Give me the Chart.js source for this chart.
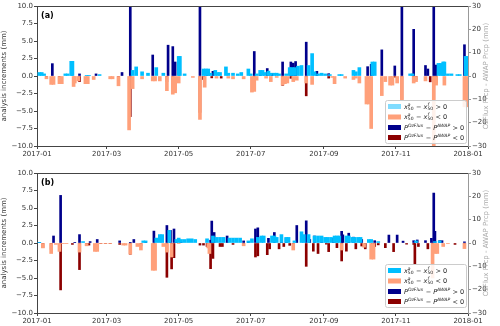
<!DOCTYPE html>
<html lang="en">
<head>
<meta charset="UTF-8">
<title>Analysis increments and OzFlux - AWAP precipitation</title>
<script src="https://cdn.jsdelivr.net/npm/chart.js"></script>
<style>
  html, body { margin: 0; padding: 0; background: #fff; }
  .panel { position: absolute; left: 0; width: 500px; height: 163px; }
  #panelA { top: 0; }
  #panelB { top: 163px; }
</style>
</head>
<body>
<div class="panel" id="panelA"><canvas id="chartA"></canvas></div>
<div class="panel" id="panelB"><canvas id="chartB"></canvas></div>

<script>
// x axis: day of year, 0 = 2017-01-01
const tickDays = [0, 59, 120, 181, 243, 304, 365];
const tickLabels = ['2017-01', '2017-03', '2017-05', '2017-07', '2017-09', '2017-11', '2018-01'];

// panel (a): [day, value]; increments in mm (left axis), precip difference in mm (right axis)
const incPosA = [[2,0.5],[4,0.5],[6,0.3],[24,0.3],[26,0.3],[29,2.1],[30,2.1],[42,0.1],[44,0.1],[53,0.2],
  [81,0.8],[84,1.3],[89,0.6],[94,0.4],[101,1.2],[107,0.4],[120,2.8],[121,2.8],[125,0.3],[141,1.0],[143,1.0],
  [145,1.0],[147,0.4],[151,0.8],[153,0.5],[155,0.5],[160,1.3],[162,0.4],[166,0.4],[170,0.3],[173,0.5],[179,1.0],
  [181,0.3],[186,0.3],[189,0.8],[191,0.8],[193,0.5],[196,0.7],[198,0.4],[201,0.4],[203,0.4],[205,0.3],[211,0.3],
  [214,1.2],[216,1.2],[218,1.2],[221,1.4],[224,1.5],[230,1.5],[233,3.2],[235,0.6],[238,0.3],[241,0.4],[244,0.3],
  [248,0.2],[256,0.2],[258,0.2],[268,0.8],[270,0.6],[273,1.2],[284,2.0],[286,2.0],[316,0.3],[318,0.3],[340,1.8],
  [342,1.8],[344,2.0],[345,2.0],[348,0.3],[351,0.3],[356,0.2],[358,0.2],[363,2.8],[364,2.8]];
const incNegA = [[8,-0.4],[12,-1.2],[14,-1.2],[19,-1.1],[21,-1.1],[31,-1.5],[32,-1.0],[35,-0.7],[41,-1.1],[43,-1.1],
  [48,-0.5],[62,-0.4],[64,-0.4],[69,-1.4],[78,-7.7],[81,-1.8],[89,-0.4],[98,-0.7],[100,-0.7],[104,-0.7],[110,-2.1],
  [115,-2.6],[117,-2.4],[120,-1.0],[132,-0.2],[138,-6.2],[142,-1.6],[152,-0.3],[162,-0.3],[166,-0.4],[175,-0.4],
  [182,-2.3],[184,-2.2],[186,-0.6],[194,-0.3],[198,-0.8],[203,-0.2],[208,-1.3],[210,-1.1],[212,-1.0],[217,-0.8],
  [220,-0.6],[228,-1.0],[233,-1.2],[250,-0.2],[252,-1.1],[261,-0.3],[268,-0.5],[270,-0.3],[273,-1.0],[279,-4.0],
  [281,-4.0],[283,-7.5],[292,-2.8],[295,-0.8],[299,-1.3],[301,-1.3],[305,-1.0],[309,-3.5],[319,-1.0],[321,-0.8],
  [329,-0.7],[336,-10.5],[338,-1.3],[345,-1.3],[362,-4.4],[364,-4.4]];
const prcpPosA = [[13,5.3],[36,0.9],[50,0.9],[72,1.5],[79,29.5],[98,9.0],[111,13.2],[115,12.6],[117,6.0],[138,33],
  [144,1.5],[149,2.0],[184,10.5],[189,1.0],[195,3.2],[199,1.0],[208,6.0],[215,6.0],[217,5.5],[219,6.2],[228,14.5],
  [237,2.0],[247,1.0],[280,4.0],[283,5.0],[292,11.2],[303,4.3],[309,33],[319,20],[329,4.5],[331,3.0],[336,33],
  [338,4.7],[362,13.4]];
const prcpNegA = [[8,-0.9],[19,-0.6],[36,-2.4],[69,-0.9],[79,-17.4],[110,-2.4],[115,-6.9],[138,-15.6],[141,-1.5],
  [148,-0.8],[156,-0.9],[184,-5.0],[208,-4.0],[215,-1.0],[228,-8.5],[247,-0.9],[303,-0.5],[309,-10],[319,-2.0],
  [321,-1.5],[333,-2.5],[336,-10],[338,-3.0]];

// panel (b)
const incPosB = [[2,0.1],[39,0.2],[90,0.3],[92,0.3],[101,0.7],[104,1.2],[106,1.2],[112,1.8],[118,0.5],[120,0.7],
  [122,0.5],[125,0.5],[128,0.6],[131,0.6],[134,0.5],[144,0.6],[149,1.0],[152,0.8],[155,0.8],[158,0.8],[163,0.7],
  [166,0.7],[169,0.7],[172,0.7],[179,0.3],[182,0.6],[187,0.8],[190,1.0],[192,1.0],[199,1.0],[201,1.0],[203,0.8],
  [207,1.2],[211,0.8],[213,0.8],[218,0.3],[224,1.6],[226,1.2],[230,1.2],[235,1.0],[238,1.0],[241,1.0],[244,0.8],
  [246,0.8],[249,0.8],[252,1.0],[254,1.0],[256,1.0],[262,1.0],[264,1.0],[267,0.8],[269,0.8],[272,0.8],[274,0.8],
  [281,0.5],[283,0.5],[289,0.2],[321,0.3],[337,0.2],[341,0.3]];
const incNegB = [[5,-0.7],[12,-1.5],[16,-0.2],[19,-1.2],[22,-0.1],[25,-0.1],[36,-1.3],[42,-0.4],[49,-1.2],[51,-1.2],
  [54,-0.1],[58,-0.1],[62,-0.1],[73,-0.3],[75,-0.3],[79,-1.6],[85,-0.5],[88,-1.0],[98,-3.9],[100,-3.9],[107,-0.5],
  [110,-1.3],[114,-2.0],[120,-0.1],[145,-0.7],[146,-1.5],[175,-0.4],[217,-1.0],[258,-1.0],[277,-0.6],[283,-2.3],
  [285,-2.3],[335,-5.0],[337,-1.5],[339,-1.5],[344,-0.5],[348,-0.1],[362,-0.8]];
const prcpPosB = [[2,0.3],[14,3.0],[20,20.4],[32,0.3],[36,3.6],[45,0.6],[51,1.5],[70,0.9],[79,0.3],[82,1.5],[92,0.6],
  [99,5.1],[110,7.5],[113,5.4],[116,6.0],[118,0.9],[122,0.5],[147,1.2],[148,9.4],[150,4.5],[161,3.0],[175,0.9],
  [179,0.5],[185,6.0],[187,6.5],[196,2.0],[201,4.5],[207,2.0],[211,2.0],[220,7.5],[228,9.5],[231,1.5],[235,3.0],
  [241,2.5],[251,2.0],[258,5.0],[259,3.5],[264,4.2],[268,2.5],[275,1.5],[286,1.0],[298,3.4],[305,3.4],[310,0.8],
  [319,1.0],[322,1.3],[329,1.0],[334,2.0],[336,21.4],[337,5.0],[341,1.0],[343,1.0],[362,0.5]];
const prcpNegB = [[5,-1.9],[12,-2.7],[20,-20.1],[30,-0.6],[36,-11.4],[42,-0.9],[44,-0.9],[54,-0.3],[58,-0.3],
  [62,-0.3],[70,-0.6],[79,-4.8],[88,-1.2],[99,-4.8],[110,-14.7],[114,-11.1],[116,-6.3],[138,-0.9],[141,-0.9],
  [144,-1.5],[147,-11.0],[149,-6.6],[155,-1.5],[157,-1.5],[166,-0.6],[175,-1.0],[185,-6.0],[187,-5.5],[195,-5.0],
  [197,-2.5],[205,-2.5],[209,-1.5],[214,-1.0],[217,-0.8],[228,-10.0],[234,-3.5],[238,-4.5],[245,-0.5],[247,-3.7],
  [254,-2.0],[258,-7.7],[262,-3.5],[270,-2.5],[275,-1.3],[278,-2.5],[284,-0.6],[286,-1.5],[289,-0.8],[295,-2.0],
  [302,-3.7],[313,-0.5],[319,-0.6],[320,-9.0],[323,-1.5],[331,-2.5],[335,-14.5],[354,-0.6],[362,-1.5]];

const LIGHT_BLUE = '#00bfff';
const SALMON = '#ffa07a';
const NAVY = '#00008b';
const DARK_RED = '#8b0000';

Chart.defaults.font.family = 'DejaVu Sans';
Chart.defaults.color = '#333';

const toXY = arr => arr.map(([d, v]) => ({ x: d, y: v }));
const minus = s => String(s).replace('-', '\u2212');

// draws x^a_50 style text piece by piece
function drawMath(ctx, x, y, parts) {
    parts.forEach(p => {
        if (p.sup !== undefined || p.sub !== undefined) {
            let w = 0;
            ctx.font = 'italic 4.5px DejaVu Sans';
            if (p.sup) { ctx.fillText(p.sup, x, y - 2.6); w = ctx.measureText(p.sup).width; }
            ctx.font = '4.5px DejaVu Sans';
            if (p.sub) { ctx.fillText(p.sub, x, y + 1.8); w = Math.max(w, ctx.measureText(p.sub).width); }
            x += w + 0.4;
        } else {
            ctx.font = (p.it ? 'italic ' : '') + '6.5px DejaVu Sans';
            ctx.fillText(p.t, x, y);
            x += ctx.measureText(p.t).width;
        }
    });
}

const legendRows = [
    [{ t: 'x', it: true }, { sup: 'a', sub: '50' }, { t: ' \u2212 ' }, { t: 'x', it: true }, { sup: 'f', sub: '50' }, { t: ' > 0' }],
    [{ t: 'x', it: true }, { sup: 'a', sub: '50' }, { t: ' \u2212 ' }, { t: 'x', it: true }, { sup: 'f', sub: '50' }, { t: ' < 0' }],
    [{ t: 'P', it: true }, { sup: 'OzFlux' }, { t: ' \u2212 ' }, { t: 'P', it: true }, { sup: 'AWAP' }, { t: ' > 0' }],
    [{ t: 'P', it: true }, { sup: 'OzFlux' }, { t: ' \u2212 ' }, { t: 'P', it: true }, { sup: 'AWAP' }, { t: ' < 0' }]
];

const panelDecor = {
    id: 'panelDecor',
    afterDraw(chart, args, opts) {
        const { ctx, chartArea: a } = chart;
        ctx.save();
        // top spine
        ctx.strokeStyle = '#444';
        ctx.lineWidth = 1;
        ctx.beginPath();
        ctx.moveTo(a.left, a.top + 0.5);
        ctx.lineTo(a.right, a.top + 0.5);
        ctx.stroke();

        // panel tag
        ctx.fillStyle = '#000';
        ctx.font = 'bold 8px DejaVu Sans';
        ctx.textBaseline = 'alphabetic';
        ctx.fillText(opts.tag, a.left + 4, a.top + 11.5);

        // right axis title, reads bottom to top
        ctx.save();
        ctx.translate(486, (a.top + a.bottom) / 2);
        ctx.rotate(-Math.PI / 2);
        ctx.textAlign = 'center';
        ctx.textBaseline = 'middle';
        ctx.font = '7px DejaVu Sans';
        ctx.fillStyle = '#aaa';
        ctx.fillText('OzFlux Prcp - AWAP Prcp (mm)', 0, 0);
        ctx.restore();

        // legend box
        const bw = 81, bh = 43;
        const bx = a.right - 2 - bw, by = a.bottom - opts.legendGap - bh;
        ctx.fillStyle = 'rgba(255,255,255,0.85)';
        ctx.strokeStyle = '#ccc';
        ctx.beginPath();
        ctx.roundRect(bx + 0.5, by + 0.5, bw, bh, 2);
        ctx.fill();
        ctx.stroke();
        const colors = [opts.patchBlue, SALMON, NAVY, DARK_RED];
        const rowY = [6.5, 17, 27.5, 37.5];
        ctx.textBaseline = 'middle';
        legendRows.forEach((row, i) => {
            const cy = by + rowY[i];
            ctx.fillStyle = colors[i];
            ctx.fillRect(bx + 3, cy - 2.5, 13, 5);
            ctx.fillStyle = '#222';
            drawMath(ctx, bx + 19, cy + 0.5, row);
        });
        ctx.restore();
    }
};

function makePanel(canvasId, tag, sets, topPad, xAxisHeight, legendGap, patchBlue) {
    const bar = (data, color, axis, thick) => ({
        data: toXY(data),
        backgroundColor: color,
        borderWidth: 0,
        yAxisID: axis,
        grouped: false,
        barThickness: thick
    });
    return new Chart(document.getElementById(canvasId), {
        type: 'bar',
        data: {
            datasets: [
                bar(sets[0], LIGHT_BLUE, 'y', 3),
                bar(sets[1], SALMON, 'y', 3),
                bar(sets[2], NAVY, 'y1', 2),
                bar(sets[3], DARK_RED, 'y1', 2)
            ]
        },
        options: {
            responsive: true,
            maintainAspectRatio: false,
            animation: false,
            layout: { padding: { top: topPad, left: 0, right: 0, bottom: 0 } },
            plugins: {
                legend: { display: false },
                tooltip: { enabled: false },
                panelDecor: { tag: tag, legendGap: legendGap, patchBlue: patchBlue }
            },
            scales: {
                x: {
                    type: 'linear',
                    min: 0,
                    max: 365,
                    offset: false,
                    grid: { display: true, drawOnChartArea: false, offset: false, tickLength: 3, color: '#444' },
                    border: { color: '#444' },
                    afterBuildTicks: scale => { scale.ticks = tickDays.map(v => ({ value: v })); },
                    afterFit: scale => { scale.height = xAxisHeight; },
                    ticks: {
                        autoSkip: false,
                        maxRotation: 0,
                        padding: 1,
                        font: { size: 7 },
                        callback: v => tickLabels[tickDays.indexOf(v)]
                    }
                },
                y: {
                    position: 'left',
                    min: -10,
                    max: 10,
                    grid: { display: true, drawOnChartArea: false, tickLength: 3, color: '#444' },
                    border: { color: '#444' },
                    afterFit: scale => { scale.width = 37; },
                    ticks: { stepSize: 2.5, padding: 1, font: { size: 7 }, callback: v => minus(v.toFixed(1)) },
                    title: { display: true, text: 'analysis increments (mm)', font: { size: 7 }, color: '#333', padding: 0 }
                },
                y1: {
                    position: 'right',
                    min: -30,
                    max: 30,
                    grid: { display: true, drawOnChartArea: false, tickLength: 3, color: '#999' },
                    border: { color: '#999' },
                    afterFit: scale => { scale.width = 32; },
                    ticks: { stepSize: 10, padding: 1, font: { size: 7 }, callback: v => minus(v) }
                }
            }
        },
        plugins: [panelDecor]
    });
}

makePanel('chartA', '(a)', [incPosA, incNegA, prcpPosA, prcpNegA], 6, 17, 3, '#80dcff');
makePanel('chartB', '(b)', [incPosB, incNegB, prcpPosB, prcpNegB], 10, 13, 6, LIGHT_BLUE);
</script>
</body>
</html>
